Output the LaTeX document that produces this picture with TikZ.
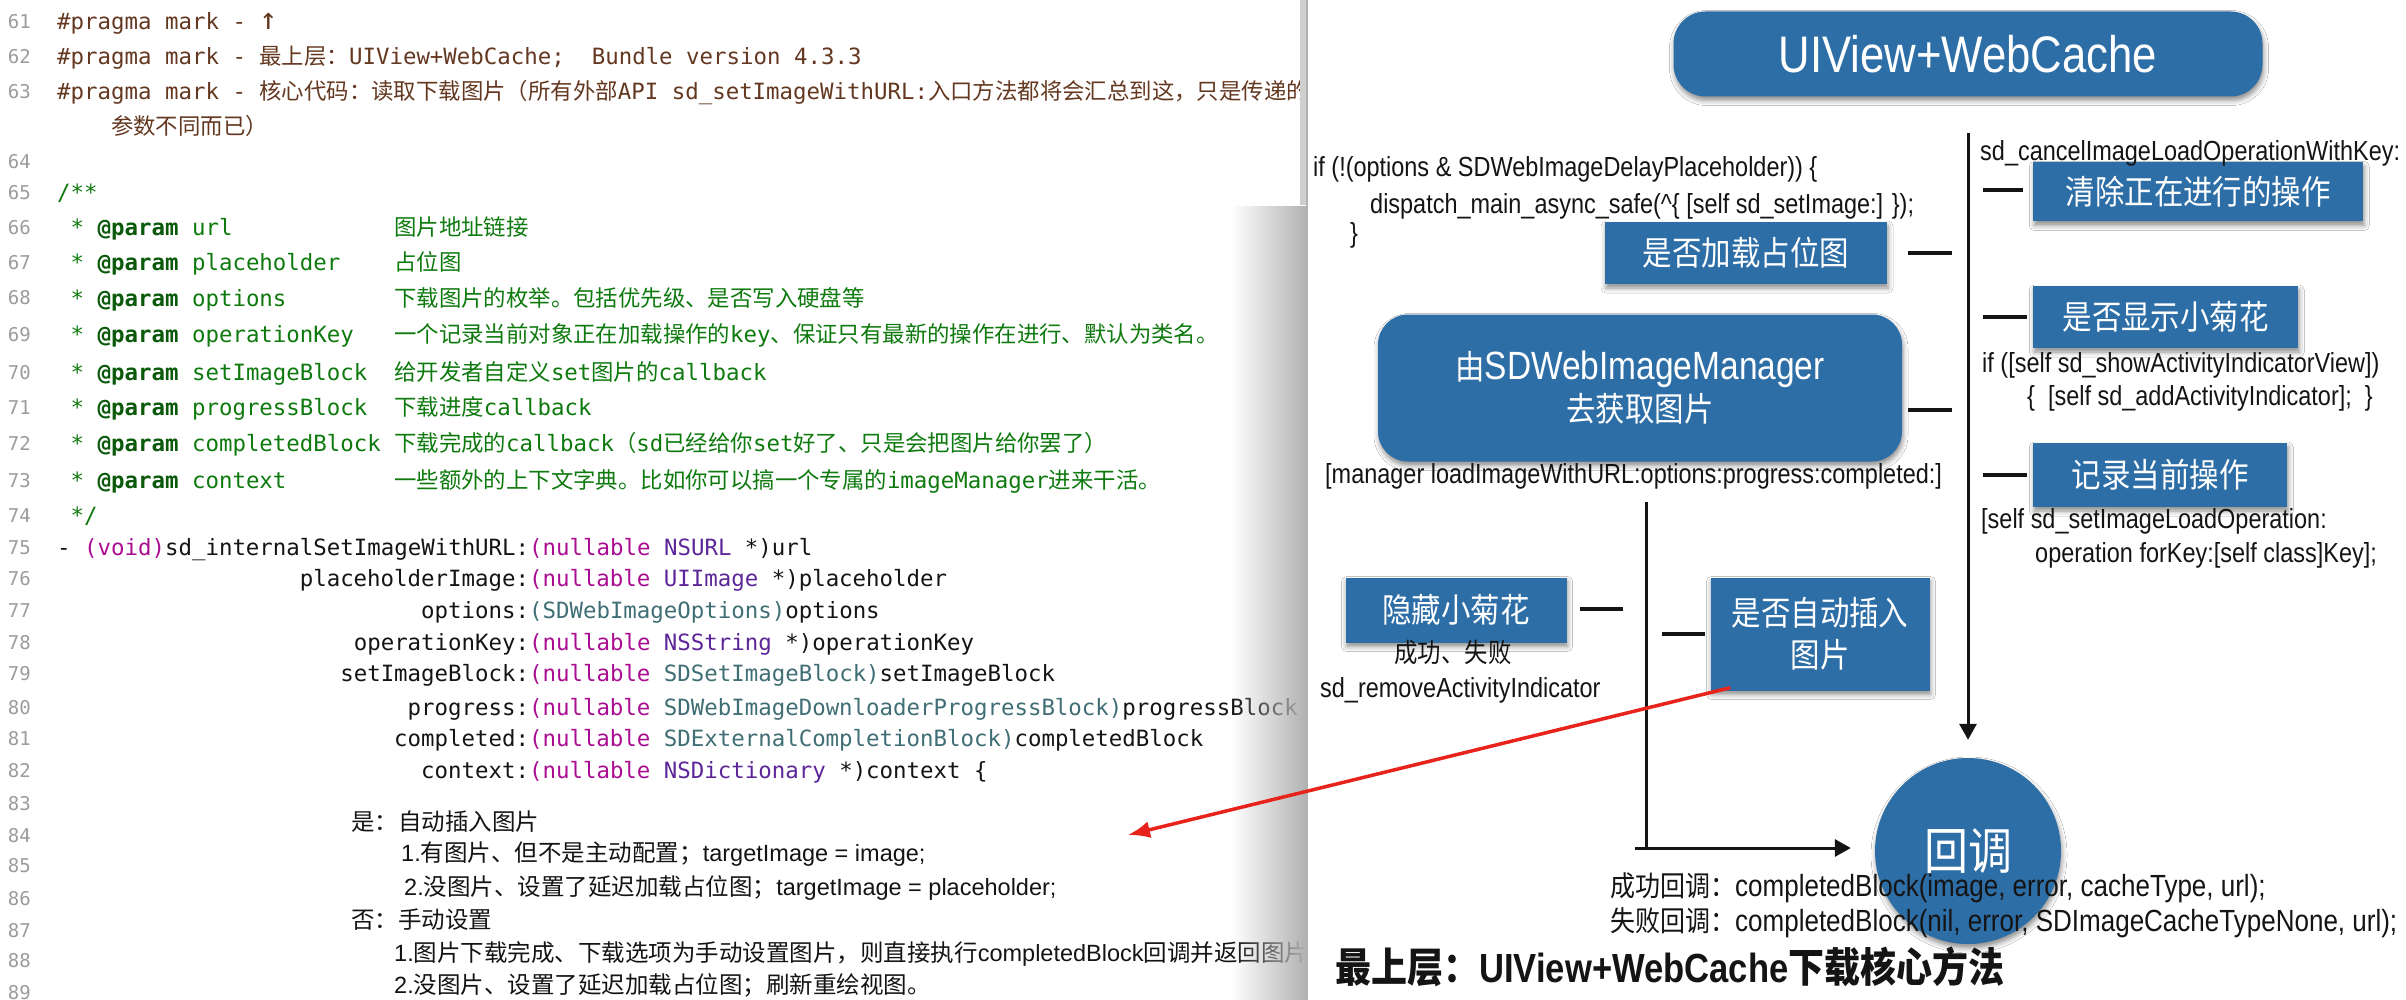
\documentclass[tikz,border=0pt]{standalone}
\usepackage{fontspec}
\usetikzlibrary{arrows.meta,positioning,calc,shadows.blur,fadings}
\setmainfont{Liberation Sans}
\newfontfamily\codemono{DejaVu Sans Mono}
\newfontfamily\cjkfont{Noto Sans CJK SC}
\newfontfamily\rsans[FakeStretch=0.85]{Liberation Sans}
\newfontfamily\rzh[FakeStretch=0.88]{Noto Sans CJK SC}
\definecolor{Ink}{HTML}{141414}
\definecolor{LineNo}{HTML}{9C9C9C}
\definecolor{Pragma}{HTML}{643820}
\definecolor{Comment}{HTML}{0E7A0E}
\definecolor{DocKey}{HTML}{0B5A0B}
\definecolor{Keyword}{HTML}{AA0D91}
\definecolor{SysType}{HTML}{5C2699}
\definecolor{ProjType}{HTML}{3F6E74}
\definecolor{CardBlue}{HTML}{2E6EA6}
\definecolor{Pointer}{HTML}{E8231C}
\definecolor{Edge}{HTML}{CFCFCF}
\newcommand\zh[1]{{\cjkfont #1}}
\newcommand\rz[2]{{\rzh\fontsize{#1}{#1}\selectfont #2}}
\newcommand\kw[1]{\textcolor{Keyword}{#1}}
\newcommand\sys[1]{\textcolor{SysType}{#1}}
\newcommand\proj[1]{\textcolor{ProjType}{#1}}
\newcommand\dockey{\textcolor{DocKey}{\bfseries @param}}
\tikzset{
  lineno/.style={anchor=base east,inner sep=0pt,text=LineNo,font=\codemono\fontsize{19}{22}\selectfont},
  codeline/.style={anchor=base west,inner sep=0pt,text=Ink,font=\codemono\fontsize{22.4}{26}\selectfont},
  pragma/.style={codeline,text=Pragma},
  comment/.style={codeline,text=Comment},
  prose/.style={anchor=base west,inner sep=0pt,text=Ink,font=\fontsize{23.5}{28}\selectfont},
  card/.style={fill=CardBlue,text=white,inner sep=0pt,align=center,
    font=\rzh\fontsize{33.5}{42}\selectfont,
    blur shadow={shadow xshift=1pt,shadow yshift=-4pt,shadow blur radius=5pt,shadow opacity=45}},
  topcard/.style={card,rounded corners=32pt,minimum width=589pt,minimum height=85pt,
    font=\rsans\fontsize{51.4}{60}\selectfont},
  callbackdot/.style={card,circle,minimum size=186pt,font=\rzh\fontsize{50}{50}\selectfont},
  note/.style={anchor=base west,inner sep=0pt,text=Ink,font=\rsans\fontsize{27.6}{32}\selectfont},
  result/.style={note,font=\rsans\fontsize{30.6}{34}\selectfont},
  headline/.style={note,font=\rsans\bfseries\fontsize{40.7}{46}\selectfont},
  dashmark/.style={draw=Ink,line width=3.5pt},
  flowline/.style={draw=Ink,line width=3pt},
  flowarrow/.style={flowline,-{Triangle[length=16pt,width=17pt]}},
  pointer/.style={draw=Pointer,line width=3.5pt,-{Latex[length=22pt,width=17pt]}}
}
\begin{document}
\begin{tikzpicture}[x=1pt,y=-1pt]
\useasboundingbox (0,0) rectangle (2406,1000);
\fill[white] (0,0) rectangle (2406,1000);

% editor: line numbers
\foreach \n/\y in {61/29,62/64,63/99,64/169,65/200,66/235,67/270,68/305,69/341,70/379,
  71/414,72/450,73/487,74/522,75/554,76/585,77/617,78/649,79/680,80/714,81/745,82/777,
  83/810,84/842,85/872,86/905,87/937,88/967,89/999}
  \node[lineno] (ln\n) at (31,\y) {\n};

% editor: pragma marks
\node[pragma] (c61) at (57,30) {\#pragma mark - {\fontsize{30}{30}\selectfont ↑}};
\node[pragma] (c62) at (57,65) {\#pragma mark - \zh{最上层：}UIView+WebCache;~ Bundle version 4.3.3};
\node[pragma] (c63) at (57,100) {\#pragma mark - \zh{核心代码：读取下载图片（所有外部}API sd\_setImageWithURL:\zh{入口方法都将会汇总到这，只是传递的}};
\node[pragma] (c63b) at (110.9,135) {\zh{参数不同而已）}};

% editor: doc comment
\node[comment] (c65) at (57,201) {/**};
\node[comment] (c66) at (70.5,236) {* \dockey{} url};
\node[comment] (c67) at (70.5,271) {* \dockey{} placeholder};
\node[comment] (c68) at (70.5,306) {* \dockey{} options};
\node[comment] (c69) at (70.5,342) {* \dockey{} operationKey};
\node[comment] (c70) at (70.5,380) {* \dockey{} setImageBlock};
\node[comment] (c71) at (70.5,415) {* \dockey{} progressBlock};
\node[comment] (c72) at (70.5,451) {* \dockey{} completedBlock};
\node[comment] (c73) at (70.5,488) {* \dockey{} context};
\node[comment] (c74) at (70.5,523) {*/};
\node[comment] (d66) at (394,236) {\zh{图片地址链接}};
\node[comment] (d67) at (394,271) {\zh{占位图}};
\node[comment] (d68) at (394,306) {\zh{下载图片的枚举。包括优先级、是否写入硬盘等}};
\node[comment] (d69) at (394,342) {\zh{一个记录当前对象正在加载操作的}key\zh{、保证只有最新的操作在进行、默认为类名。}};
\node[comment] (d70) at (394,380) {\zh{给开发者自定义}set\zh{图片的}callback};
\node[comment] (d71) at (394,415) {\zh{下载进度}callback};
\node[comment] (d72) at (394,451) {\zh{下载完成的}callback\zh{（}sd\zh{已经给你}set\zh{好了、只是会把图片给你罢了）}};
\node[comment] (d73) at (394,488) {\zh{一些额外的上下文字典。比如你可以搞一个专属的}imageManager\zh{进来干活。}};

% editor: method signature
\node[codeline] (c75) at (57,555) {- \kw{(void)}sd\_internalSetImageWithURL:\kw{(nullable} \sys{NSURL} *)url};
\node[codeline] (c76) at (299.6,586) {placeholderImage:\kw{(nullable} \sys{UIImage} *)placeholder};
\node[codeline] (c77) at (421,618) {options:\proj{(SDWebImageOptions)}options};
\node[codeline] (c78) at (353.6,650) {operationKey:\kw{(nullable} \sys{NSString} *)operationKey};
\node[codeline] (c79) at (340.1,681) {setImageBlock:\kw{(nullable} \proj{SDSetImageBlock)}setImageBlock};
\node[codeline] (c80) at (407.5,715) {progress:\kw{(nullable} \proj{SDWebImageDownloaderProgressBlock)}progressBlock};
\node[codeline] (c81) at (394,746) {completed:\kw{(nullable} \proj{SDExternalCompletionBlock)}completedBlock};
\node[codeline] (c82) at (421,778) {context:\kw{(nullable} \sys{NSDictionary} *)context \{};

% editor: notes
\node[prose] (yesHead) at (351,830) {\zh{是：自动插入图片}};
\node[prose] (yesOne) at (401,861) {1.\zh{有图片、但不是主动配置；}targetImage = image;};
\node[prose] (yesTwo) at (404,895) {2.\zh{没图片、设置了延迟加载占位图；}targetImage = placeholder;};
\node[prose] (noHead) at (351,928) {\zh{否：手动设置}};
\node[prose] (noOne) at (394,961) {1.\zh{图片下载完成、下载选项为手动设置图片，则直接执行}completedBlock\zh{回调并返回图片。}};
\node[prose] (noTwo) at (394,993) {2.\zh{没图片、设置了延迟加载占位图；刷新重绘视图。}};

% pasted diagram on top
\fill[white] (1307,0) rectangle (2406,1000);
\fill[black!30,path fading=west] (1232,205) rectangle (1306,1000);
\fill[Edge] (1300,0) rectangle (1307,205);
\draw[black!30,line width=1.5pt] (1307,0) -- (1307,1000);

\node[topcard] (top) at (1968,54) {UIView+WebCache};

\node[card,anchor=west,minimum width=330pt,minimum height=59pt] (cancel) at (2033,192) {清除正在进行的操作};
\node[card,anchor=west,minimum width=265pt,minimum height=62pt] (showAI) at (2033,317) {是否显示小菊花};
\node[card,anchor=west,minimum width=254pt,minimum height=64pt] (record) at (2033,475) {记录当前操作};
\node[card,minimum width=282pt,minimum height=62pt] (loadPH) at (1746,253) {是否加载占位图};
\node[card,rounded corners=30pt,minimum width=524pt,minimum height=147pt] (manager) at (1640,388)
  {由{\rsans\fontsize{39.4}{42}\selectfont SDWebImageManager}\\去获取图片};
\node[card,minimum width=221pt,minimum height=65pt] (hideAI) at (1456,610) {隐藏小菊花};
\node[card,minimum width=219pt,minimum height=113pt] (autoSet) at (1820,634) {是否自动插入\\图片};
\node[callbackdot] (callback) at (1968,851) {回调};

\node[note] (cancelKey) at (1980,161) {sd\_cancelImageLoadOperationWithKey:};
\node[note] (phIf) at (1313,177) {if (!(options \& SDWebImageDelayPlaceholder)) \{};
\node[note] (phDispatch) at (1370,214) {dispatch\_main\_async\_safe(\textasciicircum\{ [self sd\_setImage:] \});};
\node[note] (phClose) at (1350,243) {\}};
\node[note] (aiIf) at (1982,372) {if ([self sd\_showActivityIndicatorView])};
\node[note] (aiAdd) at (2027,405) {\{~ [self sd\_addActivityIndicator];~ \}};
\node[note] (mgrCall) at (1325,483) {[manager loadImageWithURL:options:progress:completed:]};
\node[note] (opSet) at (1981,528) {[self sd\_setImageLoadOperation:};
\node[note] (opKey) at (2035,562) {operation forKey:[self class]Key];};
\node[note,anchor=base] (hideNote) at (1453,662) {\rz{26.6}{成功、失败}};
\node[note] (hideCall) at (1320,697) {sd\_removeActivityIndicator};
\node[result] (okCall) at (1610,896) {\rz{28.4}{成功回调：}completedBlock(image, error, cacheType, url);};
\node[result] (failCall) at (1610,931) {\rz{28.4}{失败回调：}completedBlock(nil, error, SDImageCacheTypeNone, url);};
\node[headline] (title) at (1335,982) {\rz{40.9}{最上层：}UIView+WebCache\rz{40.9}{下载核心方法}};

% short marks beside the cards
\draw[dashmark] ($(cancel.west)+(-50,-2)$) -- ++(40,0);
\draw[dashmark] ($(showAI.west)+(-50,0)$) -- ++(44,0);
\draw[dashmark] ($(record.west)+(-50,0)$) -- ++(44,0);
\draw[dashmark] ($(loadPH.east)+(21,0)$) -- ++(44,0);
\draw[dashmark] ($(manager.east)+(6,22)$) -- ++(44,0);
\draw[dashmark] ($(hideAI.east)+(13,-1)$) -- ++(43,0);
\draw[dashmark] ($(autoSet.west)+(-48,0)$) -- ++(43,0);

% flow lines
\coordinate (spineTop) at (1968,133);
\coordinate (branchTop) at (1646,502);
\coordinate (branchCorner) at (1646,848);
\draw[flowarrow] (spineTop) -- ($(callback.north)+(0,-18)$);
\draw[flowline] (branchTop) -- (branchCorner);
\draw[flowarrow] ($(branchCorner)+(-11,0)$) -- ($(callback.west|-branchCorner)+(-24,0)$);

% pointer back into the code
\coordinate (codeTarget) at (1128,835);
\draw[pointer] ($(autoSet.south west)+(20,-3)$) -- (codeTarget);
\end{tikzpicture}
\end{document}
